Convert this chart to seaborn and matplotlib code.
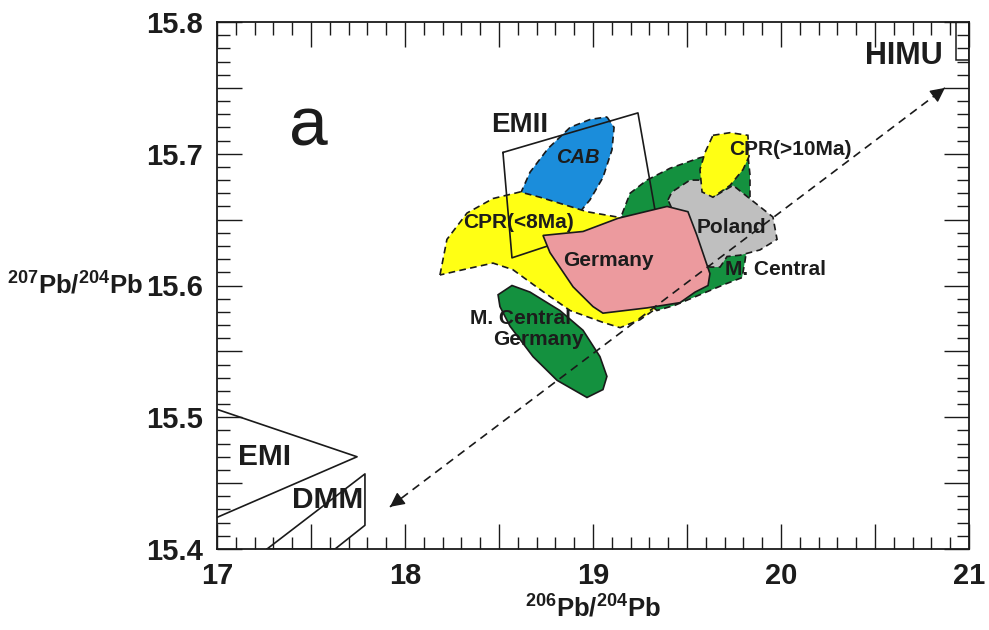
import numpy as np
import pandas as pd
import matplotlib
matplotlib.use("Agg")
import matplotlib.pyplot as plt
import matplotlib.ticker as mticker
from matplotlib.patches import Polygon, Rectangle
import seaborn as sns

sns.set_style("ticks")
plt.rcParams["font.family"] = ["Liberation Sans", "DejaVu Sans"]
plt.rcParams["mathtext.fontset"] = "custom"
plt.rcParams["mathtext.rm"] = "Liberation Sans:bold"
plt.rcParams["mathtext.default"] = "rm"

TXT = "#1c1c1c"

# ── field outlines (206Pb/204Pb, 207Pb/204Pb) ───────────────────────────────
cab_x = [19.074, 19.112, 19.101, 19.053, 18.984, 18.920, 18.718, 18.612, 18.665, 18.761, 18.878, 18.984]
cab_y = [15.728, 15.720, 15.703, 15.682, 15.665, 15.654, 15.654, 15.669, 15.686, 15.704, 15.720, 15.726]

cpr_young_x = [18.186, 18.223, 18.330, 18.468, 18.612, 18.718, 18.878, 18.968, 19.128, 19.234, 19.356,
               19.340, 19.250, 19.144, 19.053, 18.878, 18.718, 18.574, 18.468, 18.309]
cpr_young_y = [15.608, 15.635, 15.655, 15.666, 15.671, 15.667, 15.660, 15.656, 15.652, 15.651, 15.635,
               15.583, 15.574, 15.568, 15.572, 15.581, 15.597, 15.612, 15.617, 15.612]

mcentral_x = [19.154, 19.197, 19.287, 19.410, 19.569, 19.755, 19.824, 19.835, 19.835, 19.824, 19.809,
              19.793, 19.702, 19.569, 19.436, 19.340, 19.277, 19.197]
mcentral_y = [15.654, 15.670, 15.680, 15.689, 15.697, 15.703, 15.699, 15.684, 15.665, 15.635, 15.619,
              15.606, 15.601, 15.593, 15.585, 15.581, 15.589, 15.627]

mcg_x = [18.495, 18.569, 18.665, 18.824, 18.947, 19.037, 19.074, 19.053, 18.968, 18.809, 18.681, 18.559, 18.505]
mcg_y = [15.593, 15.600, 15.595, 15.581, 15.566, 15.546, 15.531, 15.521, 15.515, 15.528, 15.546, 15.569, 15.584]

poland_x = [19.399, 19.420, 19.516, 19.569, 19.638, 19.745, 19.957, 19.979, 19.888, 19.782, 19.713,
            19.676, 19.622, 19.516]
poland_y = [15.665, 15.671, 15.680, 15.680, 15.667, 15.676, 15.652, 15.635, 15.627, 15.623, 15.622,
            15.614, 15.614, 15.627]

cpr_old_x = [19.638, 19.729, 19.824, 19.830, 19.798, 19.729, 19.638, 19.580, 19.569, 19.596]
cpr_old_y = [15.714, 15.716, 15.714, 15.698, 15.688, 15.676, 15.667, 15.671, 15.688, 15.701]

germany_x = [18.734, 18.947, 19.133, 19.394, 19.505, 19.553, 19.622, 19.612, 19.543, 19.463, 19.287,
             19.053, 19.000, 18.894, 18.771]
germany_y = [15.638, 15.641, 15.651, 15.660, 15.656, 15.638, 15.609, 15.600, 15.595, 15.587, 15.583,
             15.579, 15.584, 15.599, 15.625]

emii_x = [18.521, 19.239, 19.330, 18.569, 18.521]
emii_y = [15.701, 15.731, 15.657, 15.621, 15.701]

emi_x = [17.0, 17.745, 17.0]
emi_y = [15.506, 15.470, 15.424]

dmm_x = [17.266, 17.787, 17.787, 17.628]
dmm_y = [15.400, 15.457, 15.418, 15.400]

himu_x = [20.93, 21.0]
himu_y = [15.771, 15.8]

trend_x = [17.920, 20.872]
trend_y = [15.432, 15.750]

# fill colours
C_BLUE = "#1b8ddb"
C_YELLOW = "#ffff14"
C_GREEN = "#14913f"
C_GREY = "#bfbfbf"
C_PINK = "#ec9a9e"

fig = plt.figure(figsize=(9.89, 6.3), dpi=100)
ax = fig.add_axes([217 / 989, 81 / 630, 752 / 989, 527 / 630])

dash = (0, (4, 2.6))


def field(xs, ys, color, ls, z):
    ax.add_patch(Polygon(np.column_stack([xs, ys]), closed=True, facecolor=color,
                         edgecolor="#1a1a1a", lw=1.2, linestyle=ls, zorder=z))


field(cab_x, cab_y, C_BLUE, dash, 2)
field(cpr_young_x, cpr_young_y, C_YELLOW, dash, 3)
field(mcentral_x, mcentral_y, C_GREEN, dash, 4)
field(mcg_x, mcg_y, C_GREEN, "-", 4)
field(poland_x, poland_y, C_GREY, dash, 5)
field(cpr_old_x, cpr_old_y, C_YELLOW, dash, 6)
field(germany_x, germany_y, C_PINK, "-", 8)

# open (unfilled) mantle end-member fields
outlines = pd.concat([
    pd.DataFrame({"x": emii_x, "y": emii_y, "f": "EMII"}),
    pd.DataFrame({"x": emi_x, "y": emi_y, "f": "EMI"}),
    pd.DataFrame({"x": dmm_x + dmm_x[:1], "y": dmm_y + dmm_y[:1], "f": "DMM"}),
])
sns.lineplot(data=outlines, x="x", y="y", units="f", estimator=None, sort=False,
             color="#1a1a1a", lw=1.2, ax=ax, zorder=7, legend=False)
ax.add_patch(Rectangle((himu_x[0], himu_y[0]), himu_x[1] - himu_x[0], himu_y[1] - himu_y[0],
                       fill=False, edgecolor="#1a1a1a", lw=1.1, zorder=7))

# dashed mixing trend with arrowheads at both ends
ax.plot(trend_x, trend_y, color="#1a1a1a", lw=1.2, ls=(0, (5, 3.5)), zorder=9)
dx = (trend_x[1] - trend_x[0]) * 0.02
dy = (trend_y[1] - trend_y[0]) * 0.02
for (tx, ty), sgn in [((trend_x[1], trend_y[1]), 1), ((trend_x[0], trend_y[0]), -1)]:
    ax.annotate("", xy=(tx, ty), xytext=(tx - sgn * dx, ty - sgn * dy),
                arrowprops=dict(arrowstyle="-|>", color="#1a1a1a", lw=1.0,
                                mutation_scale=22, shrinkA=0, shrinkB=0), zorder=9)

# labels
lab = dict(color=TXT, fontweight="bold", ha="center", va="center", zorder=10)
ax.text(17.484, 15.720, "a", fontsize=50, color=TXT, ha="center", va="center")
ax.text(18.61, 15.722, "EMII", fontsize=20, **lab)
ax.text(18.92, 15.697, "CAB", fontsize=14.5, style="italic", **lab)
ax.text(18.605, 15.648, "CPR(<8Ma)", fontsize=15, **lab)
ax.text(20.048, 15.703, "CPR(>10Ma)", fontsize=15, **lab)
ax.text(19.735, 15.644, "Poland", fontsize=15, **lab)
ax.text(19.080, 15.619, "Germany", fontsize=15, **lab)
ax.text(19.973, 15.612, "M. Central", fontsize=15, **lab)
ax.text(18.617, 15.575, "M. Central", fontsize=15, **lab)
ax.text(18.707, 15.559, "Germany", fontsize=15, **lab)
ax.text(20.655, 15.774, "HIMU", fontsize=22, **lab)
ax.text(17.255, 15.470, "EMI", fontsize=21.5, **lab)
ax.text(17.59, 15.437, "DMM", fontsize=21.5, **lab)

# axes
ax.set_xlim(17, 21)
ax.set_ylim(15.4, 15.8)
ax.xaxis.set_major_locator(mticker.MultipleLocator(0.5))
ax.xaxis.set_minor_locator(mticker.MultipleLocator(0.1))
ax.yaxis.set_major_locator(mticker.MultipleLocator(0.05))
ax.yaxis.set_minor_locator(mticker.MultipleLocator(0.01))
ax.xaxis.set_major_formatter(mticker.FuncFormatter(
    lambda v, _: f"{v:.0f}" if abs(v - round(v)) < 1e-6 else ""))
ax.yaxis.set_major_formatter(mticker.FuncFormatter(
    lambda v, _: f"{v:.1f}" if abs(v * 10 - round(v * 10)) < 1e-6 else ""))
ax.tick_params(which="both", direction="in", top=True, right=True, color="#1a1a1a")
ax.tick_params(which="major", length=18, width=1.0, labelsize=21, labelcolor=TXT)
ax.tick_params(which="minor", length=9, width=1.0)
ax.tick_params(axis="x", which="major", pad=9)
ax.tick_params(axis="y", which="major", pad=10)
for lbl in ax.get_xticklabels() + ax.get_yticklabels():
    lbl.set_fontweight("bold")
for s in ax.spines.values():
    s.set_linewidth(1.3)
    s.set_color("#1a1a1a")

ax.set_xlabel(r"$^{206}$Pb/$^{204}$Pb", fontsize=18.5, fontweight="bold", color=TXT, labelpad=4)
ax.set_ylabel(r"$^{207}$Pb/$^{204}$Pb", fontsize=18.5, fontweight="bold", color=TXT,
              rotation=0, ha="right", va="center")
ax.yaxis.set_label_coords(-0.098, 0.5)

fig.savefig("out.png", dpi=100)
